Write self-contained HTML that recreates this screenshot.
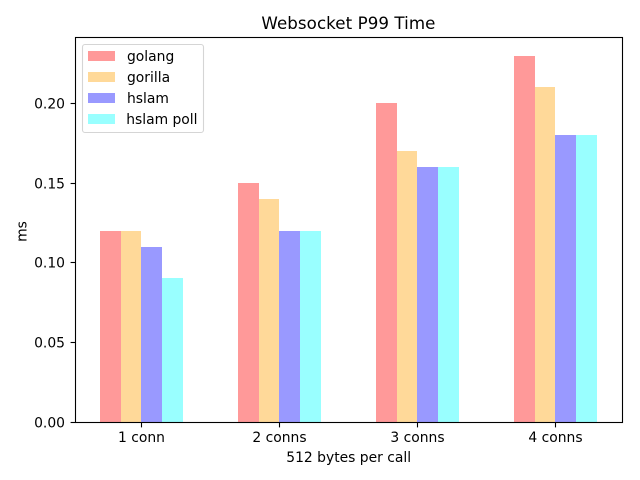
<!DOCTYPE html>
<html lang="en">
<head>
<meta charset="utf-8">
<title>Websocket P99 Time</title>
<style>
html,body{margin:0;padding:0;background:#fff;width:640px;height:480px;overflow:hidden}
svg{display:block}
text{font-family:"DejaVu Sans","Liberation Sans",sans-serif;fill:#000}
</style>
</head>
<body>
<svg id="chart" xmlns="http://www.w3.org/2000/svg" width="640" height="480" viewBox="0 0 640 480"></svg>
<script>
const categories = ["1 conn", "2 conns", "3 conns", "4 conns"];
const seriesNames = ["golang", "gorilla", "hslam", "hslam poll"];
const golang = [0.12, 0.15, 0.20, 0.23];
const gorilla = [0.12, 0.14, 0.17, 0.21];
const hslam = [0.11, 0.12, 0.16, 0.18];
const hslamPoll = [0.0905, 0.12, 0.16, 0.18];
const yTickValues = [0, 0.05, 0.10, 0.15, 0.20];
const yTickLabels = ["0.00", "0.05", "0.10", "0.15", "0.20"];

const seriesValues = [golang, gorilla, hslam, hslamPoll];
const seriesColors = ["#ff9999", "#ffd999", "#9999ff", "#99ffff"];
const plot = {left: 75.5, right: 622.5, top: 37.5, bottom: 422.5};
const scaleBox = {left: 75.2, right: 621.7, top: 37.3, bottom: 422};
const barWidth = 0.15;
const NS = "http://www.w3.org/2000/svg";
const svg = document.getElementById("chart");

const allValues = seriesValues.reduce(function (a, b) { return a.concat(b); }, []);
const yMax = Math.max.apply(null, allValues) * 1.05;
const groupHalf = barWidth * seriesValues.length / 2;
const xLo = -groupHalf;
const xHi = categories.length - 1 + groupHalf;
const xPad = (xHi - xLo) * 0.05;

function xScale(v) {
  return scaleBox.left + (v - (xLo - xPad)) / ((xHi + xPad) - (xLo - xPad)) * (scaleBox.right - scaleBox.left);
}
function yScale(v) {
  return scaleBox.bottom - v / yMax * (scaleBox.bottom - scaleBox.top);
}
function make(tag, attrs, parent) {
  const el = document.createElementNS(NS, tag);
  Object.keys(attrs).forEach(function (k) { el.setAttribute(k, attrs[k]); });
  (parent || svg).appendChild(el);
  return el;
}
function slug(s) {
  return s.replace(/\s+/g, "-");
}

// background
const bg = make("rect", {x: 0, y: 0, width: 640, height: 480, fill: "#fff"});



// bars
seriesValues.forEach(function (values, s) {
  values.forEach(function (value, c) {
    const x0 = Math.round(xScale(c + (s - seriesValues.length / 2) * barWidth));
    const x1 = Math.round(xScale(c + (s + 1 - seriesValues.length / 2) * barWidth));
    const y0 = Math.round(yScale(value));
    const y1 = yScale(0);
    const bar = make("rect", {x: x0, y: y0, width: x1 - x0, height: y1 - y0, fill: seriesColors[s], "shape-rendering": "crispEdges"});
    
    
  });
});

// y ticks
yTickValues.forEach(function (value, i) {
  const y = Math.round(yScale(value) - 0.5) + 0.5;
  const tick = make("line", {x1: plot.left - 4.9, x2: plot.left, y1: y, y2: y, stroke: "#000", "stroke-width": 1.1});
  
  
  const label = make("text", {x: 65, y: y + 5, "text-anchor": "end", "font-size": 13.89});
  label.textContent = yTickLabels[i];
  
  
});

// x ticks
categories.forEach(function (name, c) {
  const x = Math.round(xScale(c) - 0.5) + 0.5;
  const tick = make("line", {x1: x, x2: x, y1: plot.bottom, y2: plot.bottom + 4.9, stroke: "#000", "stroke-width": 1.1});
  
  
  const label = make("text", {x: x, y: 442, "text-anchor": "middle", "font-size": 13.89});
  label.textContent = name;
  
  
});

// axes frame
const frame = make("rect", {x: plot.left, y: plot.top, width: plot.right - plot.left, height: plot.bottom - plot.top, fill: "none", stroke: "#000", "stroke-width": 1.1});



// titles
const title = make("text", {x: 348.4, y: 29, "text-anchor": "middle", "font-size": 16.67, textLength: 174});
title.textContent = "Websocket P99 Time";



const xTitle = make("text", {x: 348.7, y: 462, "text-anchor": "middle", "font-size": 13.89});
xTitle.textContent = "512 bytes per call";



const yTitle = make("text", {x: 0, y: 0, "text-anchor": "middle", "font-size": 13.89, transform: "translate(26.5,231.5) rotate(-90)"});
yTitle.textContent = "ms";



// legend
const legend = make("g", {});


const legendBox = make("rect", {x: 82.5, y: 44.5, width: 121, height: 88, rx: 2.5, ry: 2.5, fill: "#fff", "fill-opacity": 0.8, stroke: "#d5d5d5", "stroke-width": 1.1}, legend);


seriesNames.forEach(function (name, i) {
  const top = 51 + i * 21;
  const swatch = make("rect", {x: 88, y: top, width: 27, height: 10, fill: seriesColors[i], "shape-rendering": "crispEdges"}, legend);
  
  
  const label = make("text", {x: i === 3 ? 126.2 : 127, y: top + 10, "font-size": 13.89}, legend);
  label.textContent = name;
  
  
});
</script>
</body>
</html>
